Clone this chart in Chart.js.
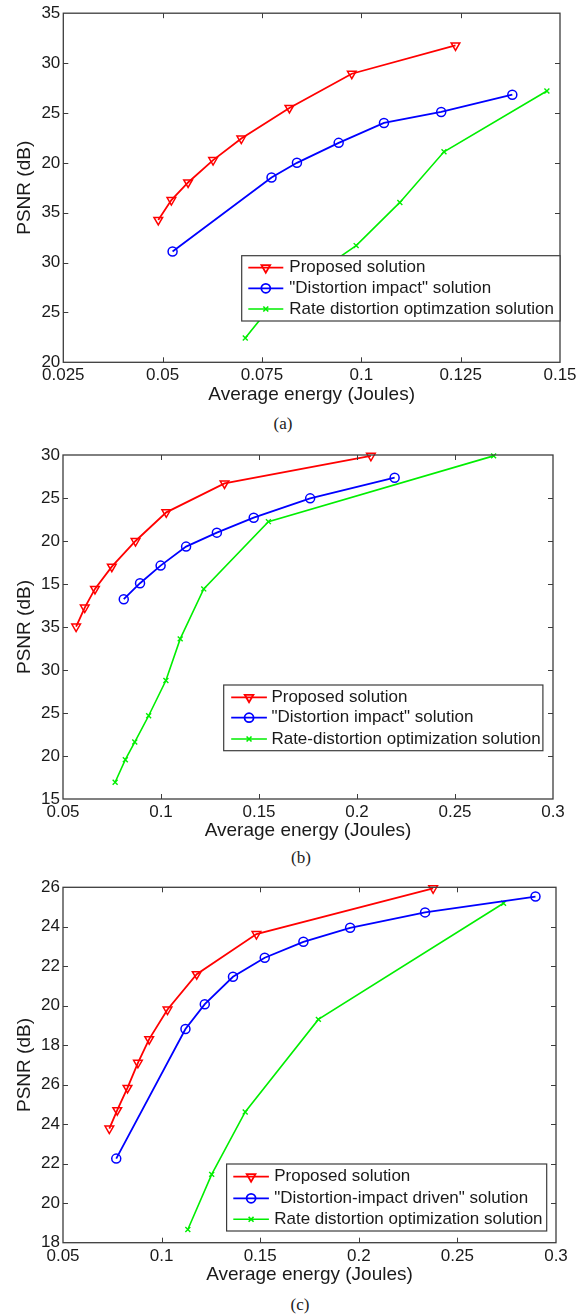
<!DOCTYPE html>
<html><head><meta charset="utf-8">
<script src="https://cdn.jsdelivr.net/npm/chart.js@4"></script>
<style>
body{margin:0;background:#fff;width:587px;height:1315px;position:relative;overflow:hidden}
canvas{position:absolute;left:0}
.cap{position:absolute;font-family:"Liberation Serif","Times New Roman",serif;font-size:17px;color:#222;transform:translate(-50%,-50%);white-space:nowrap}
</style></head><body>
<canvas id="ca" width="587" height="410" style="top:0px"></canvas>
<canvas id="cb" width="587" height="405" style="top:440px"></canvas>
<canvas id="cc" width="587" height="420" style="top:870px"></canvas>
<div class="cap" style="left:283px;top:424px">(a)</div>
<div class="cap" style="left:301px;top:858px">(b)</div>
<div class="cap" style="left:300px;top:1305px">(c)</div>
<script>
// ---------- data ----------
const seriesNames = ['Proposed solution', '"Distortion impact" solution', 'Rate distortion optimzation solution'];
const seriesNamesB = ['Proposed solution', '"Distortion impact" solution', 'Rate-distortion optimization solution'];
const seriesNamesC = ['Proposed solution', '"Distortion-impact driven" solution', 'Rate distortion optimization solution'];

// (a)
const aProposedX = [0.0489,0.0522,0.0564,0.0627,0.0698,0.0819,0.0976,0.1237];
const aProposedY = [14.27,16.27,18.03,20.27,22.43,25.50,28.93,31.77];
const aImpactX = [0.0525,0.0774,0.0838,0.0943,0.1057,0.1201,0.1380];
const aImpactY = [11.10,18.53,20.00,22.00,24.00,25.10,26.83];
const aRdoX = [0.0708,0.0780,0.0987,0.1097,0.1208,0.1467];
const aRdoY = [2.43,6.00,11.70,16.03,21.10,27.20];
const aXTicks = [0.025,0.05,0.075,0.1,0.125,0.15];
const aXLabels = ['0.025','0.05','0.075','0.1','0.125','0.15'];
const aYTicks = [0,5,10,15,20,25,30,35];
const aYLabels = ['20','25','30','35','20','25','30','35'];

// (b)
const bProposedX = [0.0567,0.0611,0.0663,0.0749,0.0870,0.1027,0.1324,0.2071];
const bProposedY = [20.05,22.26,24.43,27.02,30.00,33.33,36.70,39.90];
const bImpactX = [0.0810,0.0893,0.0998,0.1128,0.1285,0.1473,0.1761,0.2192];
const bImpactY = [23.23,25.09,27.14,29.35,30.97,32.71,34.96,37.36];
const bRdoX = [0.0766,0.0818,0.0866,0.0937,0.1025,0.1098,0.1218,0.1548,0.2697];
const bRdoY = [1.95,4.57,6.62,9.68,13.78,18.62,24.43,32.25,39.90];
const bXTicks = [0.05,0.1,0.15,0.2,0.25,0.3];
const bXLabels = ['0.05','0.1','0.15','0.2','0.25','0.3'];
const bYTicks = [0,5,10,15,20,25,30,35,40];
const bYLabels = ['15','20','25','30','35','15','20','25','30'];

// (c)
const cProposedX = [0.0735,0.0775,0.0827,0.0880,0.0937,0.1030,0.1178,0.1481,0.2377];
const cProposedY = [5.78,6.71,7.84,9.11,10.31,11.81,13.60,15.63,17.95];
const cImpactX = [0.0770,0.1121,0.1219,0.1362,0.1523,0.1719,0.1956,0.2336,0.2896];
const cImpactY = [4.26,10.82,12.08,13.47,14.43,15.24,15.95,16.73,17.53];
const cRdoX = [0.1133,0.1254,0.1424,0.1795,0.2734];
const cRdoY = [0.67,3.46,6.62,11.31,17.19];
const cXTicks = [0.05,0.1,0.15,0.2,0.25,0.3];
const cXLabels = ['0.05','0.1','0.15','0.2','0.25','0.3'];
const cYTicks = [0,2,4,6,8,10,12,14,16,18];
const cYLabels = ['18','20','22','24','26','18','20','22','24','26'];

// ---------- drawing ----------
const FONT = '"Liberation Sans", Arial, Helvetica, sans-serif';
Chart.defaults.font.family = FONT;
Chart.defaults.color = '#1a1a1a';

const pts = (xs, ys) => xs.map((x, i) => ({x, y: ys[i]}));

const framePlugin = {
  id: 'frame',
  afterDatasetsDraw(chart, args, o) {
    const ctx = chart.ctx, a = chart.chartArea;
    const xs = chart.scales.x, ys = chart.scales.y;
    ctx.save();
    ctx.strokeStyle = '#3c3c3c';
    ctx.lineWidth = 1;
    ctx.beginPath();
    xs.ticks.forEach(t => {
      const px = Math.round(xs.getPixelForValue(t.value)) + 0.5;
      if (px > a.left + 2 && px < a.right - 2) {
        ctx.moveTo(px, a.bottom); ctx.lineTo(px, a.bottom - 5);
        ctx.moveTo(px, a.top); ctx.lineTo(px, a.top + 5);
      }
    });
    ys.ticks.forEach(t => {
      const py = Math.round(ys.getPixelForValue(t.value)) + 0.5;
      if (py > a.top + 2 && py < a.bottom - 2) {
        ctx.moveTo(a.left, py); ctx.lineTo(a.left + 5, py);
        ctx.moveTo(a.right, py); ctx.lineTo(a.right - 5, py);
      }
    });
    ctx.stroke();
    ctx.lineWidth = 1.3;
    ctx.strokeRect(a.left, a.top, a.right - a.left, a.bottom - a.top);
    // legend box
    const L = o.box;
    ctx.fillStyle = '#fff';
    ctx.fillRect(L.x, L.y, L.w, L.h);
    ctx.lineWidth = 1.2;
    ctx.strokeStyle = '#3c3c3c';
    ctx.strokeRect(L.x, L.y, L.w, L.h);
    chart.data.datasets.forEach((ds, i) => {
      const y = o.rows[i];
      ctx.strokeStyle = ds.borderColor;
      ctx.lineWidth = ds.borderWidth;
      ctx.beginPath(); ctx.moveTo(o.x1, y); ctx.lineTo(o.x2, y); ctx.stroke();
      ctx.fillStyle = 'rgba(255,255,255,0)';
      Chart.helpers.drawPoint(ctx, {pointStyle: ds.pointStyle, radius: ds.pointRadius,
        borderWidth: ds.pointBorderWidth, rotation: ds.pointRotation || 0}, (o.x1 + o.x2) / 2, y);
      ctx.fillStyle = '#1a1a1a';
      ctx.font = '17px ' + FONT;
      ctx.textBaseline = 'middle';
      ctx.textAlign = 'left';
      ctx.fillText(ds.label, o.tx, y);
    });
    ctx.restore();
  }
};

function series(names, p, q, r) {
  return [
    {label: names[0], data: p, borderColor: '#ff0000', backgroundColor: 'rgba(0,0,0,0)', borderWidth: 1.8,
     pointStyle: 'triangle', pointRotation: 180, pointRadius: 5, pointBorderWidth: 1.5, pointBackgroundColor: 'rgba(0,0,0,0)', clip: false},
    {label: names[1], data: q, borderColor: '#0000ff', backgroundColor: 'rgba(0,0,0,0)', borderWidth: 1.8,
     pointStyle: 'circle', pointRadius: 4.5, pointBorderWidth: 1.5, pointBackgroundColor: 'rgba(0,0,0,0)', clip: false},
    {label: names[2], data: r, borderColor: '#00ee00', backgroundColor: 'rgba(0,0,0,0)', borderWidth: 1.6,
     pointStyle: 'crossRot', pointRadius: 3.5, pointBorderWidth: 1.4, pointBackgroundColor: 'rgba(0,0,0,0)', clip: false}
  ];
}

function build(id, top, area, titleY, xr, yr, xTicks, xLabels, yTicks, yLabels, datasets, leg) {
  const canvas = document.getElementById(id);
  const H = canvas.height;
  const lh = 19 * 1.2;
  const xH = titleY - area.b + lh / 2;
  const padBottom = H - (area.b - top) - xH;
  const sub = v => v - top;
  new Chart(canvas, {
    type: 'line',
    data: {datasets},
    plugins: [framePlugin],
    options: {
      responsive: false, animation: false, devicePixelRatio: 1,
      layout: {padding: {top: area.t - top, left: 0, right: 587 - area.r, bottom: padBottom}},
      plugins: {
        legend: {display: false}, tooltip: {enabled: false},
        frame: {box: {x: leg.x, y: sub(leg.y), w: leg.w, h: leg.h}, rows: leg.rows.map(sub), x1: leg.x1, x2: leg.x2, tx: leg.tx}
      },
      scales: {
        x: {type: 'linear', min: xr[0], max: xr[1],
          afterBuildTicks: s => { s.ticks = xTicks.map(v => ({value: v})); },
          afterFit: s => { s.height = xH; },
          grid: {display: false, drawTicks: false}, border: {display: false},
          ticks: {padding: 3, font: {size: 17}, color: '#1a1a1a', maxRotation: 0, autoSkip: false,
            callback: (v, i) => xLabels[i]},
          title: {display: true, text: 'Average energy (Joules)', font: {size: 19}, color: '#1a1a1a', padding: 0}
        },
        y: {type: 'linear', min: yr[0], max: yr[1],
          afterBuildTicks: s => { s.ticks = yTicks.map(v => ({value: v})); },
          afterFit: s => { s.width = area.l; },
          grid: {display: false, drawTicks: false}, border: {display: false},
          ticks: {padding: 3, font: {size: 17}, color: '#1a1a1a', autoSkip: false,
            callback: (v, i) => yLabels[i]},
          title: {display: true, text: 'PSNR (dB)', font: {size: 19}, color: '#1a1a1a', padding: {top: 13.6, bottom: 0}}
        }
      }
    }
  });
}

build('ca', 0, {l: 63.3, t: 12.7, r: 560, b: 362.3}, 395, [0.025, 0.15], [0, 35], aXTicks, aXLabels, aYTicks, aYLabels,
  series(seriesNames, pts(aProposedX, aProposedY), pts(aImpactX, aImpactY), pts(aRdoX, aRdoY)),
  {x: 241.7, y: 255.7, w: 318.3, h: 65.3, rows: [267.7, 288.3, 309], x1: 248.3, x2: 283.3, tx: 289.3});

build('cb', 440, {l: 63, t: 455, r: 553, b: 799}, 830.7, [0.05, 0.3], [0, 40], bXTicks, bXLabels, bYTicks, bYLabels,
  series(seriesNamesB, pts(bProposedX, bProposedY), pts(bImpactX, bImpactY), pts(bRdoX, bRdoY)),
  {x: 223.7, y: 685, w: 319.2, h: 65.7, rows: [697.3, 717.7, 739], x1: 231.2, x2: 266.9, tx: 271.4});

build('cc', 870, {l: 63, t: 887.3, r: 556, b: 1242.7}, 1275, [0.05, 0.3], [0, 18], cXTicks, cXLabels, cYTicks, cYLabels,
  series(seriesNamesC, pts(cProposedX, cProposedY), pts(cImpactX, cImpactY), pts(cRdoX, cRdoY)),
  {x: 226.6, y: 1164, w: 320.1, h: 67, rows: [1176.7, 1198.3, 1219.3], x1: 233.3, x2: 268.9, tx: 274.2});
</script>
</body></html>
